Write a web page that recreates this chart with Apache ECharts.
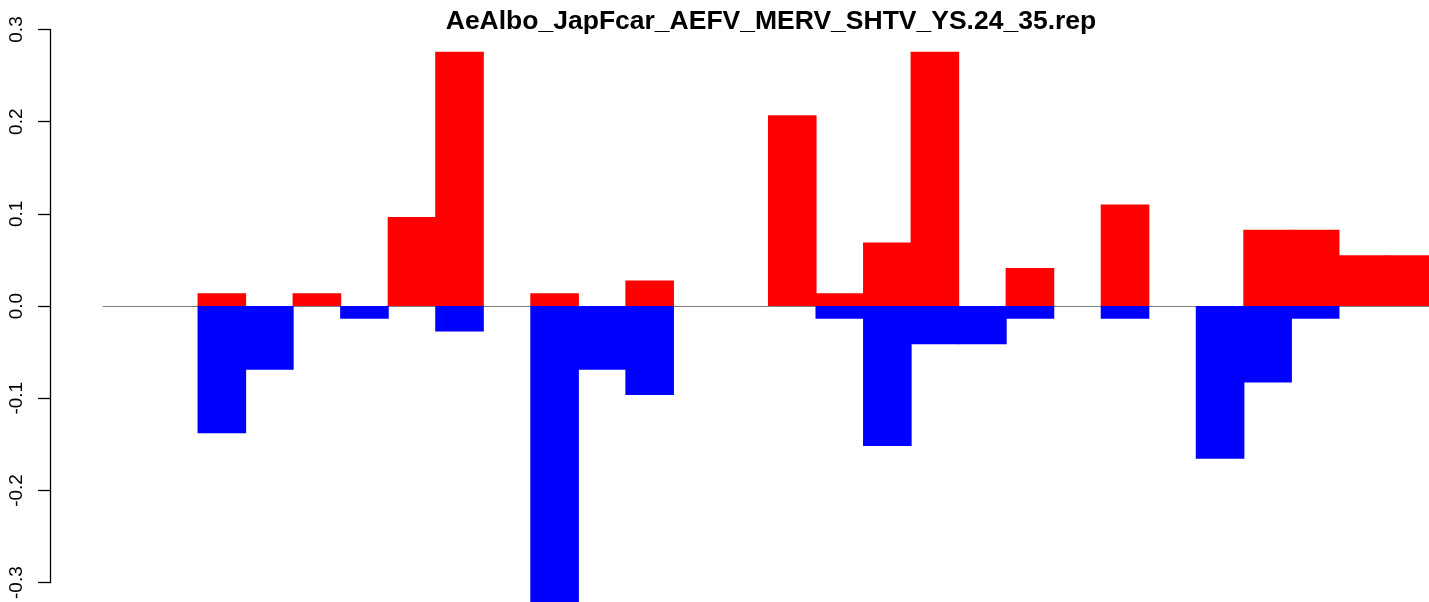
<!DOCTYPE html>
<html>
<head>
<meta charset="utf-8">
<script src="https://cdn.jsdelivr.net/npm/echarts@6/dist/echarts.min.js"></script>
<style>
html,body{margin:0;padding:0;background:#fff;overflow:hidden;width:1429px;height:602px;}
#chart{width:1434px;height:602px;}
</style>
</head>
<body>
<div id="chart"></div>
<script>
const titleText = "AeAlbo_JapFcar_AEFV_MERV_SHTV_YS.24_35.rep";
const categories = ["1","2","3","4","5","6","7","8","9","10","11","12","13","14","15","16","17","18","19","20","21","22","23","24","25","26","27","28"];
const positiveValues = [0, 0, 0.0138, 0, 0.0138, 0, 0.0966, 0.2759, 0, 0.0138, 0, 0.0276, 0, 0, 0.2069, 0.0138, 0.0690, 0.2759, 0, 0.0414, 0, 0.1103, 0, 0, 0.0828, 0.0828, 0.0552, 0.0552];
const negativeValues = [0, 0, -0.1379, -0.0690, 0, -0.0138, 0, -0.0276, 0, -0.3310, -0.0690, -0.0966, 0, 0, 0, -0.0138, -0.1517, -0.0414, -0.0414, -0.0138, 0, -0.0138, 0, -0.1655, -0.0828, -0.0138, 0, 0];
const yTicks = [-0.3, -0.2, -0.1, 0.0, 0.1, 0.2, 0.3];

// zero-height bars are not drawn
const toBarData = arr => arr.map(v => (v === 0 ? '-' : v));

const chart = echarts.init(document.getElementById('chart'), null, {renderer: 'canvas'});
chart.setOption({
  animation: false,
  backgroundColor: '#ffffff',
  title: {
    text: titleText,
    left: 766,
    textAlign: 'center',
    top: 3,
    textStyle: {fontFamily: 'Liberation Sans, Arial, sans-serif', fontWeight: 'bold', fontSize: 26.5, color: '#000'}
  },
  grid: {left: 103, right: 0, top: 29.5, bottom: 19.3, containLabel: false},
  xAxis: {
    type: 'category',
    data: categories,
    boundaryGap: true,
    axisLine: {show: true, onZero: true, lineStyle: {color: '#808080', width: 1}},
    axisTick: {show: false},
    axisLabel: {show: false},
    splitLine: {show: false}
  },
  yAxis: {
    type: 'value',
    min: yTicks[0],
    max: yTicks[yTicks.length - 1],
    interval: 0.1,
    offset: 53,
    axisLine: {show: true, lineStyle: {color: '#000', width: 1.3}},
    axisTick: {show: true, length: 12, lineStyle: {color: '#000', width: 1.3}},
    axisLabel: {
      show: true, rotate: 90, margin: 24,
      fontFamily: 'Liberation Sans, Arial, sans-serif', fontSize: 19, color: '#000',
      formatter: v => v.toFixed(1)
    },
    splitLine: {show: false}
  },
  series: [
    {
      type: 'bar', name: 'pos', data: toBarData(positiveValues), stack: 'all',
      barWidth: 48.6, barCategoryGap: '0%', clip: false,
      itemStyle: {color: '#ff0000'}
    },
    {
      type: 'bar', name: 'neg', data: toBarData(negativeValues), stack: 'all',
      barWidth: 48.6, barCategoryGap: '0%', clip: false,
      itemStyle: {color: '#0000ff'}
    }
  ]
});
</script>
</body>
</html>
